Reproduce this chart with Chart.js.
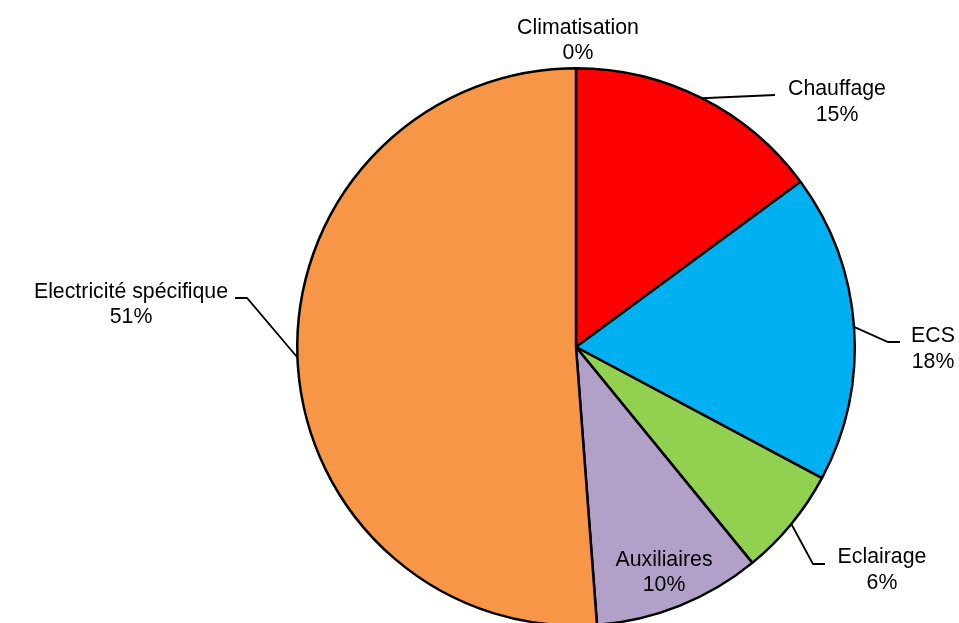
<!DOCTYPE html>
<html>
  <head>
    <meta charset="utf-8" />
    <title>Répartition des consommations</title>
    <style>
      html, body { margin: 0; padding: 0; background: #fff; overflow: hidden; }
      #wrap { width: 959px; height: 700px; position: relative; }
    </style>
  </head>
  <body>
    <div id="wrap"><canvas id="myChart"></canvas></div>

    <script src="https://cdn.jsdelivr.net/npm/chart.js@4.4.0/dist/chart.umd.min.js"></script>
    <script>
      // données (en %)
      const categories = ["Climatisation", "Chauffage", "ECS", "Eclairage", "Auxiliaires", "Electricité spécifique"];
      const shares = [0, 14.9, 17.9, 6.3, 9.7, 51.2];
      const sliceColors = ["#4F81BD", "#FF0000", "#00B0F0", "#92D050", "#B1A0C7", "#F79646"];

      // position des étiquettes par rapport au centre du camembert
      const labelLayout = [
        { at: [2, -306.5], leader: null },
        { at: [261, -245], leader: [[199, -252]] },
        { at: [357, 2], leader: [[312, -5], [324, -5]] },
        { at: [306, 223], leader: [[237, 217], [249, 217]] },
        { at: [88, 225.5], leader: null },
        { at: [-445, -42.5], leader: [[-329, -49], [-341, -49]] },
      ];

      const pieLabels = {
        id: "pieLabels",
        afterDatasetsDraw(chart) {
          const ctx = chart.ctx;
          const arcs = chart.getDatasetMeta(0).data;
          const total = shares.reduce((a, b) => a + b, 0);
          ctx.save();
          ctx.font = "21.3px 'Liberation Sans', Arial, sans-serif";
          ctx.fillStyle = "#000";
          ctx.strokeStyle = "#000";
          ctx.lineWidth = 1.8;
          ctx.textAlign = "center";
          ctx.textBaseline = "middle";
          arcs.forEach((arc, i) => {
            const cx = arc.x, cy = arc.y;
            const mid = (arc.startAngle + arc.endAngle) / 2;
            const lay = labelLayout[i];
            if (lay.leader) {
              ctx.beginPath();
              ctx.moveTo(cx + Math.cos(mid) * arc.outerRadius, cy + Math.sin(mid) * arc.outerRadius);
              lay.leader.forEach((p) => ctx.lineTo(cx + p[0], cy + p[1]));
              ctx.stroke();
            }
            const pct = Math.round((shares[i] / total) * 100) + "%";
            const tx = cx + lay.at[0], ty = cy + lay.at[1];
            ctx.fillText(categories[i], tx, ty - 12.8);
            ctx.fillText(pct, tx, ty + 12.8);
          });
          ctx.restore();
        },
      };

      const ctx = document.getElementById("myChart").getContext("2d");
      new Chart(ctx, {
        type: "pie",
        data: {
          labels: categories,
          datasets: [
            {
              data: shares,
              backgroundColor: sliceColors,
              borderColor: "#000",
              borderWidth: 2.5,
            },
          ],
        },
        options: {
          responsive: true,
          maintainAspectRatio: false,
          animation: false,
          layout: { padding: { top: 67, bottom: 73, left: 296, right: 103 } },
          plugins: {
            legend: { display: false },
            tooltip: { enabled: false },
          },
        },
        plugins: [pieLabels],
      });
    </script>
  </body>
</html>
